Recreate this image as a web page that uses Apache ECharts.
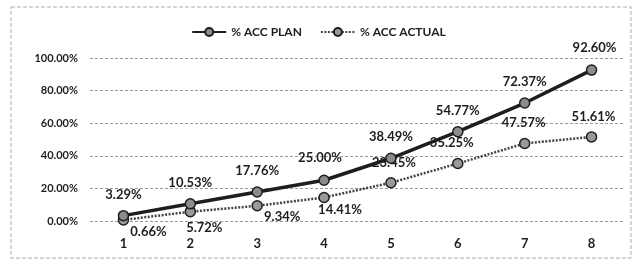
<!DOCTYPE html>
<html>
<head>
<meta charset="utf-8">
<script src="https://cdn.jsdelivr.net/npm/echarts@6/dist/echarts.min.js"></script>
<style>
  html, body { margin: 0; padding: 0; background: #fff; }
  #chart { width: 637px; height: 262px; }
</style>
</head>
<body>
<div id="chart"></div>
<script>
  // data
  const categories = ['1', '2', '3', '4', '5', '6', '7', '8'];
  const planValues = [3.29, 10.53, 17.76, 25.00, 38.49, 54.77, 72.37, 92.60];
  const actualValues = [0.66, 5.72, 9.34, 14.41, 23.45, 35.25, 47.57, 51.61];
  const yMin = 0;
  const yMax = 100;
  const yStep = 20;

  // where each value label sits relative to its point
  const planLabelOffset = [[0, -21], [0, -21], [0, -21], [-4, -22], [0, -21], [0, -21], [0, -21], [3, -22]];
  const actualLabelOffset = [[25, 12], [14, 16], [25, 11], [16, 12], [3, -20], [-6, -21], [-1, -21], [2, -20]];

  const labelFont = { fontFamily: 'Lato', fontWeight: 'bold', fontSize: 13, color: '#1e1e1e' };

  function withLabels(values, offsets) {
    return values.map(function (v, i) {
      return {
        value: v,
        label: { position: 'inside', offset: offsets[i] }
      };
    });
  }

  const chart = echarts.init(document.getElementById('chart'));
  chart.setOption({
    backgroundColor: '#fff',
    animation: false,
    graphic: [{
      type: 'rect',
      shape: { x: 11, y: 7, width: 620, height: 251 },
      style: { fill: 'none', stroke: '#aaa', lineWidth: 1, lineDash: [4, 2] }
    }],
    legend: {
      top: 21,
      left: 'center',
      itemWidth: 34,
      itemHeight: 10,
      itemGap: 18,
      textStyle: { fontFamily: 'Lato', fontWeight: 'bold', fontSize: 12, color: '#1e1e1e' },
      data: ['% ACC PLAN', '% ACC ACTUAL']
    },
    grid: { left: 90, right: 12, top: 58, bottom: 41 },
    xAxis: {
      type: 'category',
      data: categories,
      axisLine: { show: false },
      axisTick: { show: false },
      axisLabel: { margin: 16, fontFamily: 'Lato', fontWeight: 'bold', fontSize: 13, color: '#1e1e1e' }
    },
    yAxis: {
      type: 'value',
      min: yMin,
      max: yMax,
      interval: yStep,
      axisLine: { show: false },
      axisTick: { show: false },
      axisLabel: {
        margin: 12,
        fontFamily: 'Lato', fontWeight: 'bold', fontSize: 11, color: '#1e1e1e',
        formatter: function (v) { return v.toFixed(2) + '%'; }
      },
      splitLine: { lineStyle: { color: '#9a9a9a', type: [3, 2], width: 1 } }
    },
    series: [
      {
        name: '% ACC PLAN',
        type: 'line',
        data: withLabels(planValues, planLabelOffset),
        symbol: 'circle',
        symbolSize: 10,
        lineStyle: { color: '#1e1e1e', width: 3.5 },
        itemStyle: { color: '#8c8c8c', borderColor: '#1e1e1e', borderWidth: 1.5 },
        label: Object.assign({ show: true, formatter: function (p) { return p.value.toFixed(2) + '%'; } }, labelFont),
        z: 3
      },
      {
        name: '% ACC ACTUAL',
        type: 'line',
        data: withLabels(actualValues, actualLabelOffset),
        symbol: 'circle',
        symbolSize: 10,
        lineStyle: { color: '#444', width: 2.5, type: [2, 1.5] },
        itemStyle: { color: '#9a9a9a', borderColor: '#1e1e1e', borderWidth: 1.5 },
        label: Object.assign({ show: true, formatter: function (p) { return p.value.toFixed(2) + '%'; } }, labelFont),
        z: 2
      }
    ]
  });
</script>
</body>
</html>
